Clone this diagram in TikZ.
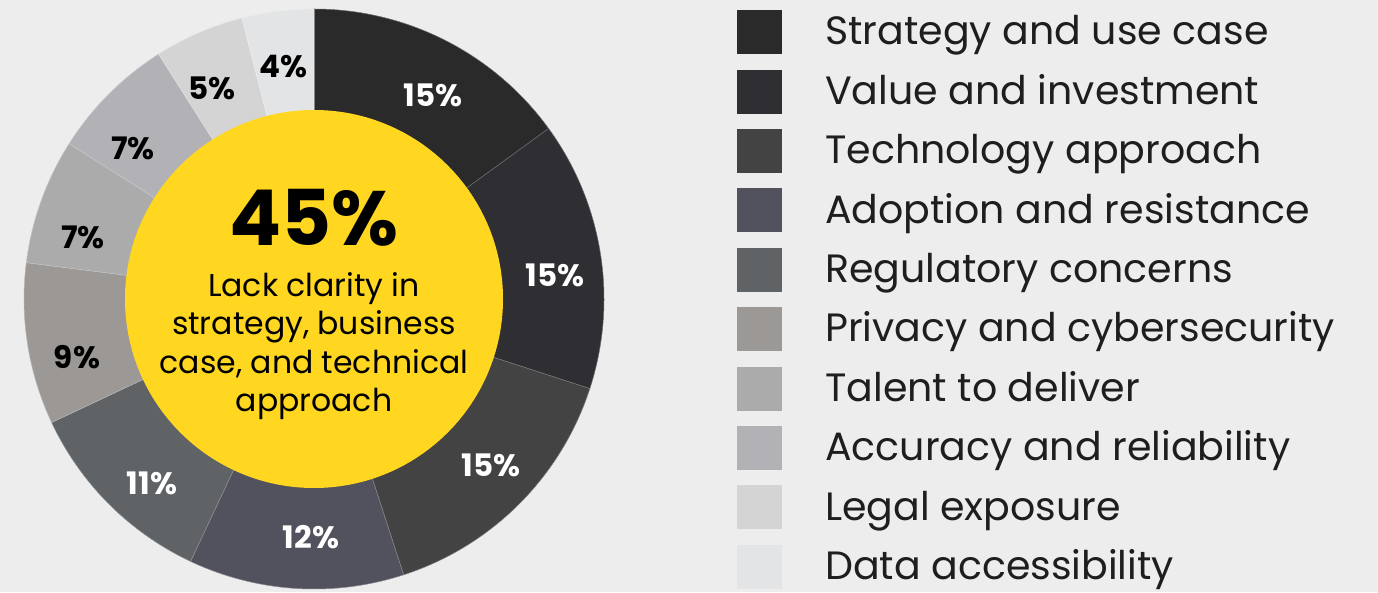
\documentclass[tikz,border=0pt]{standalone}
\usepackage{fontspec}
\setmainfont{Poppins}
\definecolor{bg}{HTML}{EDEDED}
\definecolor{yel}{HTML}{FFD620}
\definecolor{cA}{HTML}{2A2A2A}
\definecolor{cB}{HTML}{2E2E33}
\definecolor{cC}{HTML}{434343}
\definecolor{cD}{HTML}{52525E}
\definecolor{cE}{HTML}{5F6366}
\definecolor{cF}{HTML}{9B9896}
\definecolor{cG}{HTML}{ABABAB}
\definecolor{cH}{HTML}{B1B1B6}
\definecolor{cI}{HTML}{D4D4D4}
\definecolor{cJ}{HTML}{E3E4E6}
\definecolor{ink}{HTML}{1E1E1E}
\tikzset{
  slice/.style={draw=#1!70!white, line width=0.5pt, fill=#1},
  pct/.style={font=\fontsize{31}{33}\selectfont\bfseries, inner sep=0pt},
  legsq/.style={fill=#1, draw=none, minimum width=45pt, minimum height=44pt, inner sep=0pt, anchor=north west},
  legtxt/.style={font=\fontsize{39.5}{42}\selectfont, text=ink, inner sep=0pt, anchor=base west},
}
\begin{document}
\begin{tikzpicture}[x=1pt,y=1pt]
\fill[bg] (0,0) rectangle (1378,592);
\useasboundingbox (0,0) rectangle (1378,592);
\coordinate (C) at (314,293);
% pie slices (clockwise from top)
\foreach \a/\b/\c in {90/36/cA, 36/-18/cB, -18/-72/cC, -72/-115.2/cD, -115.2/-154.8/cE, -154.8/-187.2/cF, -187.2/-212.4/cG, -212.4/-237.6/cH, -237.6/-255.6/cI, -255.6/-270/cJ}{
  \filldraw[slice=\c, shift={(C)}] (0,0) -- (\a:290) arc[start angle=\a, end angle=\b, radius=290] -- cycle;
}
\fill[yel] (C) circle[radius=189];
% labels
\node[pct, text=white] (p1) at (433,497) {15\%};
\node[pct, text=white] (p2) at (555,317) {15\%};
\node[pct, text=white] (p3) at (491,127) {15\%};
\node[pct, text=white] (p4) at (311,55) {12\%};
\node[pct, text=white] (p5) at (152,109) {11\%};
\node[pct, text=black] (p6) at (77,235) {9\%};
\node[pct, text=black] (p7) at (83,355) {7\%};
\node[pct, text=black] (p8) at (133,444) {7\%};
\node[pct, text=black] (p9) at (212,504) {5\%};
\node[pct, text=black] (p10) at (283,525) {4\%};
% center
\node[font=\fontsize{77}{77}\selectfont\bfseries, inner sep=0pt] (big) at (314,374) {45\%};
\node[font=\fontsize{31.5}{38.5}\selectfont, align=center, inner sep=0pt] (sub) at (314,246)
  {Lack clarity in\\strategy, business\\case, and technical\\approach};
% legend
\foreach \i/\c/\t in {0/cA/Strategy and use case, 1/cB/Value and investment, 2/cC/Technology approach, 3/cD/Adoption and resistance, 4/cE/Regulatory concerns, 5/cF/Privacy and cybersecurity, 6/cG/Talent to deliver, 7/cH/Accuracy and reliability, 8/cI/Legal exposure, 9/cJ/Data accessibility}{
  \node[legsq=\c] (sq\i) at (737, 582-59.4*\i) {};
  \node[legtxt] (lt\i) at (825, 547-59.4*\i) {\t};
}
\end{tikzpicture}
\end{document}
